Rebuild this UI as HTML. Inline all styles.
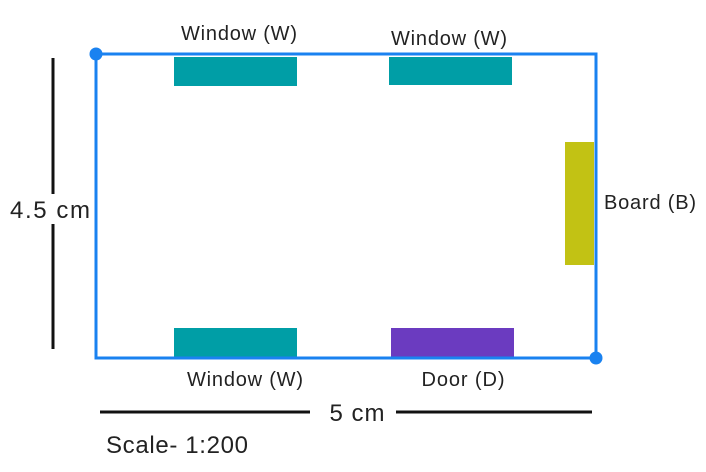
<!DOCTYPE html>
<html><head><meta charset="utf-8"><style>
body{margin:0;background:#fff;}
</style></head><body>
<svg width="706" height="472" xmlns="http://www.w3.org/2000/svg" style="display:block">
<rect x="0" y="0" width="706" height="472" fill="#fff"/>
<rect x="174" y="57" width="123" height="29" fill="#009ea6"/>
<rect x="389" y="57" width="123" height="28" fill="#009ea6"/>
<rect x="174" y="328" width="123" height="29" fill="#009ea6"/>
<rect x="391" y="328" width="123" height="29" fill="#6b3bc0"/>
<rect x="565" y="142" width="29" height="123" fill="#c2c214"/>
<rect x="96" y="54" width="500" height="304" fill="none" stroke="#1a82f0" stroke-width="3"/>
<circle cx="96" cy="54" r="6.5" fill="#1a82f0"/>
<circle cx="596" cy="358" r="6.5" fill="#1a82f0"/>
<line x1="53" y1="58" x2="53" y2="349" stroke="#111" stroke-width="3"/>
<rect x="8" y="194" width="84" height="30" fill="#fff"/>
<line x1="100" y1="412" x2="310" y2="412" stroke="#111" stroke-width="3"/>
<line x1="396" y1="412" x2="592" y2="412" stroke="#111" stroke-width="3"/>
<g font-family="Liberation Sans, sans-serif" fill="#222">
<text x="239" y="40" font-size="20" text-anchor="middle" textLength="116">Window (W)</text>
<text x="449" y="45" font-size="20" text-anchor="middle" textLength="116">Window (W)</text>
<text x="245" y="386" font-size="20" text-anchor="middle" textLength="116">Window (W)</text>
<text x="463" y="386" font-size="20" text-anchor="middle" textLength="83">Door (D)</text>
<text x="604" y="209" font-size="20" textLength="92">Board (B)</text>
<text x="50" y="218" font-size="24" text-anchor="middle" textLength="80">4.5 cm</text>
<text x="357" y="421" font-size="24" text-anchor="middle" textLength="55">5 cm</text>
<text x="106" y="453" font-size="24" textLength="142">Scale- 1:200</text>
</g>
</svg>
</body></html>
